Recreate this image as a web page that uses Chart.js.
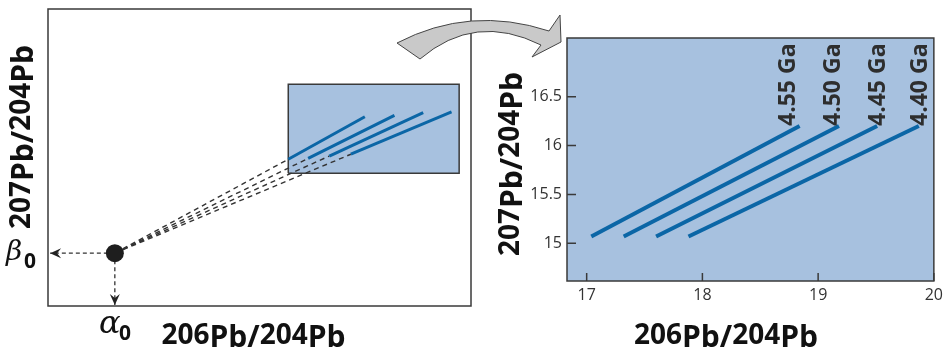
<!DOCTYPE html>
<html>
<head>
<meta charset="utf-8">
<script src="https://cdn.jsdelivr.net/npm/chart.js"></script>
<style>
  body { margin: 0; background: #fff; }
  #wrap { position: relative; width: 948px; height: 352px; }
  #rightBox { position: absolute; left: 480px; top: 0; }
  #leftBox { position: absolute; left: 0; top: 0; }
</style>
</head>
<body>
<div id="wrap">
  <div id="rightBox"><canvas id="zoomChart" width="468" height="352"></canvas></div>
  <div id="leftBox"><canvas id="sketchChart" width="570" height="352"></canvas></div>
</div>
<script>
// 오른쪽 확대 그래프 데이터
const ages = ["4.55 Ga", "4.50 Ga", "4.45 Ga", "4.40 Ga"];
const lineStartX = [17.04, 17.32, 17.6, 17.88];
const lineEndX = [18.84, 19.18, 19.51, 19.87];
const lineStartY = [15.07, 15.07, 15.07, 15.07];
const lineEndY = [16.2, 16.2, 16.2, 16.2];
const ageLabelX = [18.8, 19.19, 19.58, 19.94];
const xTicks = [17, 18, 19, 20];
const yTicks = [15, 15.5, 16, 16.5];

// 왼쪽 개념도 데이터 (임의 단위 0~100)
const sketchStartX = [56.8, 61.5, 66.5, 71.6];
const sketchStartY = [49.4, 49.7, 50.5, 51.1];
const sketchEndX = [74.9, 81.9, 88.7, 95.4];
const sketchEndY = [63.7, 64.2, 65.1, 65.4];
const zoomBoxX = [56.8, 97.2];
const zoomBoxY = [44.7, 74.7];
const primordial = [15.8, 17.8]; // alpha0, beta0
const betaArrowEnd = [0.5, 17.8];
const alphaArrowEnd = [15.8, 0.3];

const titleX = "206Pb/204Pb";
const titleY = "207Pb/204Pb";

const leadBlue = "#0b66a6";
const boxBlue = "#a7c1df";

// 축 제목 (숫자는 조금 작게, 위로)
function drawIsotopeTitle(ctx, text, x, y, vertical) {
  const parts = text.match(/\d+|\D+/g);
  const fontOf = (p) => (/\d/.test(p) ? 'bold 28px "Open Sans"' : 'bold 30px "Open Sans"');
  ctx.save();
  ctx.fillStyle = "#111";
  ctx.textAlign = "left";
  ctx.textBaseline = "alphabetic";
  let total = 0;
  parts.forEach((p) => {
    ctx.font = fontOf(p);
    total += ctx.measureText(p).width;
  });
  ctx.translate(x, y);
  if (vertical) ctx.rotate(-Math.PI / 2);
  let cx = -total / 2;
  parts.forEach((p) => {
    ctx.font = fontOf(p);
    const raise = /\d/.test(p) ? 3 : 0;
    ctx.fillText(p, cx, -raise);
    cx += ctx.measureText(p).width;
  });
  ctx.restore();
}

function arrowHead(ctx, x, y, angle) {
  ctx.save();
  ctx.translate(x, y);
  ctx.rotate(angle);
  ctx.beginPath();
  ctx.moveTo(0, 0);
  ctx.lineTo(-11, -5);
  ctx.lineTo(-7, 0);
  ctx.lineTo(-11, 5);
  ctx.closePath();
  ctx.fill();
  ctx.restore();
}

// ---------- 오른쪽 그래프 ----------
const zoomDatasets = ages.map((age, i) => ({
  label: age,
  data: [
    { x: lineStartX[i], y: lineStartY[i] },
    { x: lineEndX[i], y: lineEndY[i] },
  ],
  borderColor: leadBlue,
  borderWidth: 4,
  borderCapStyle: "butt",
  pointRadius: 0,
}));

const zoomPanel = {
  id: "zoomPanel",
  beforeDraw: (chart) => {
    const { ctx, chartArea: a } = chart;
    ctx.save();
    ctx.fillStyle = boxBlue;
    ctx.fillRect(a.left, a.top, a.right - a.left, a.bottom - a.top);
    ctx.restore();
  },
  afterDraw: (chart) => {
    const { ctx, chartArea: a, scales } = chart;
    ctx.save();
    ctx.strokeStyle = "#3a3a3a";
    ctx.lineWidth = 1.5;
    ctx.strokeRect(a.left, a.top, a.right - a.left, a.bottom - a.top);
    // 안쪽 눈금
    ctx.beginPath();
    scales.x.ticks.forEach((t) => {
      const px = scales.x.getPixelForValue(t.value);
      ctx.moveTo(px, a.bottom);
      ctx.lineTo(px, a.bottom - 8);
    });
    scales.y.ticks.forEach((t) => {
      const py = scales.y.getPixelForValue(t.value);
      ctx.moveTo(a.left, py);
      ctx.lineTo(a.left + 9, py);
    });
    ctx.stroke();

    // 나이 라벨
    ctx.fillStyle = "#2e2e2e";
    ctx.font = 'bold 23px "Open Sans"';
    ctx.textAlign = "left";
    ctx.textBaseline = "alphabetic";
    ages.forEach((age, i) => {
      ctx.save();
      ctx.translate(scales.x.getPixelForValue(ageLabelX[i]), scales.y.getPixelForValue(lineEndY[i]));
      ctx.rotate(-Math.PI / 2);
      ctx.fillText(age, 0, 0);
      ctx.restore();
    });
    ctx.restore();

    drawIsotopeTitle(ctx, titleX, 246, 347, false);
    drawIsotopeTitle(ctx, titleY, 42, 164, true);
  },
};

const tickFont = { family: "Open Sans", size: 16 };

const zoomChart = new Chart(document.getElementById("zoomChart"), {
  type: "line",
  data: { datasets: zoomDatasets },
  options: {
    responsive: false,
    animation: false,
    layout: { padding: { left: 47, top: 38, right: 11.3, bottom: 41 } },
    plugins: { legend: { display: false }, tooltip: { enabled: false } },
    scales: {
      x: {
        type: "linear",
        min: 16.83,
        max: 20,
        grid: { display: false, drawTicks: false },
        border: { display: false },
        ticks: { color: "#333", font: tickFont, padding: 5, callback: (v) => String(v) },
        afterBuildTicks: (scale) => {
          scale.ticks = xTicks.map((v) => ({ value: v }));
        },
        afterFit: (scale) => {
          scale.height = 30;
        },
      },
      y: {
        type: "linear",
        min: 14.615,
        max: 17.1,
        grid: { display: false, drawTicks: false },
        border: { display: false },
        ticks: { color: "#333", font: tickFont, padding: 5, callback: (v) => String(v) },
        afterBuildTicks: (scale) => {
          scale.ticks = yTicks.map((v) => ({ value: v }));
        },
        afterFit: (scale) => {
          scale.width = 40;
        },
      },
    },
  },
  plugins: [zoomPanel],
});

// ---------- 왼쪽 개념도 ----------
const sketchDatasets = [];

// 원시 납 조성 점
sketchDatasets.push({
  data: [{ x: primordial[0], y: primordial[1] }],
  showLine: false,
  pointRadius: 9,
  pointBackgroundColor: "#1e1e1e",
  pointBorderWidth: 0,
  order: 0,
});

// 등시선 (축소)
sketchStartX.forEach((_, i) => {
  sketchDatasets.push({
    data: [
      { x: sketchStartX[i], y: sketchStartY[i] },
      { x: sketchEndX[i], y: sketchEndY[i] },
    ],
    borderColor: leadBlue,
    borderWidth: 3,
    pointRadius: 0,
    order: 1,
  });
  // 점선 연장
  sketchDatasets.push({
    data: [
      { x: primordial[0], y: primordial[1] },
      { x: sketchStartX[i], y: sketchStartY[i] },
    ],
    borderColor: "#333",
    borderWidth: 1.4,
    borderDash: [5, 4],
    pointRadius: 0,
    order: 2,
  });
});

// alpha0, beta0 화살표
[betaArrowEnd, alphaArrowEnd].forEach((end) => {
  sketchDatasets.push({
    data: [
      { x: primordial[0], y: primordial[1] },
      { x: end[0], y: end[1] },
    ],
    borderColor: "#333",
    borderWidth: 1.3,
    borderDash: [4, 3],
    pointRadius: 0,
    order: 2,
  });
});

// 확대 영역 사각형
sketchDatasets.push({
  data: [
    { x: zoomBoxX[0], y: zoomBoxY[0] },
    { x: zoomBoxX[1], y: zoomBoxY[0] },
    { x: zoomBoxX[1], y: zoomBoxY[1] },
    { x: zoomBoxX[0], y: zoomBoxY[1] },
    { x: zoomBoxX[0], y: zoomBoxY[0] },
  ],
  borderColor: "#3a3a3a",
  borderWidth: 1.5,
  backgroundColor: boxBlue,
  fill: "shape",
  pointRadius: 0,
  order: 3,
});

const sketchPanel = {
  id: "sketchPanel",
  afterDraw: (chart) => {
    const { ctx, chartArea: a, scales } = chart;
    ctx.save();
    ctx.strokeStyle = "#3a3a3a";
    ctx.lineWidth = 1.5;
    ctx.strokeRect(a.left, a.top, a.right - a.left, a.bottom - a.top);

    ctx.fillStyle = "#222";
    arrowHead(ctx, scales.x.getPixelForValue(betaArrowEnd[0]), scales.y.getPixelForValue(betaArrowEnd[1]), Math.PI);
    arrowHead(ctx, scales.x.getPixelForValue(alphaArrowEnd[0]), scales.y.getPixelForValue(alphaArrowEnd[1]), Math.PI / 2);

    // alpha0 / beta0
    ctx.fillStyle = "#111";
    ctx.textBaseline = "alphabetic";
    ctx.textAlign = "left";
    ctx.font = 'italic 32px "DejaVu Serif"';
    ctx.fillText("\u03B1", 99, 333);
    ctx.font = 'italic 28px "DejaVu Serif"';
    ctx.fillText("\u03B2", 6, 260);
    ctx.font = 'bold 21px "Open Sans"';
    ctx.fillText("0", 119, 340);
    ctx.fillText("0", 24, 268);

    // 회색 곡선 화살표
    ctx.beginPath();
    ctx.moveTo(397, 43);
    ctx.quadraticCurveTo(470, 5, 549, 31);
    ctx.lineTo(560, 15);
    ctx.lineTo(561, 42);
    ctx.lineTo(532, 57);
    ctx.lineTo(541, 45);
    ctx.quadraticCurveTo(475, 12, 420, 59);
    ctx.closePath();
    ctx.fillStyle = "#c9c9c9";
    ctx.fill();
    ctx.strokeStyle = "#444";
    ctx.lineWidth = 1;
    ctx.stroke();
    ctx.restore();

    drawIsotopeTitle(ctx, titleX, 253.5, 347, false);
    drawIsotopeTitle(ctx, titleY, 33, 137, true);
  },
};

const sketchChart = new Chart(document.getElementById("sketchChart"), {
  type: "line",
  data: { datasets: sketchDatasets },
  options: {
    responsive: false,
    animation: false,
    layout: { padding: { left: 48, top: 9, right: 99, bottom: 46 } },
    plugins: { legend: { display: false }, tooltip: { enabled: false } },
    scales: {
      x: { type: "linear", min: 0, max: 100, display: false },
      y: { type: "linear", min: 0, max: 100, display: false },
    },
  },
  plugins: [sketchPanel],
});
</script>
</body>
</html>
